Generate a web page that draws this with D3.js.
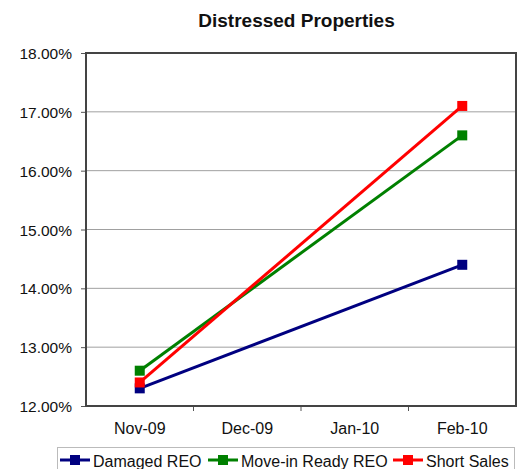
<!DOCTYPE html>
<html>
<head>
<meta charset="utf-8">
<script src="https://cdn.jsdelivr.net/npm/d3@7"></script>
<style>
  html, body { margin: 0; padding: 0; background: #fff; }
  svg { display: block; font-family: "Liberation Sans", Arial, sans-serif; }
</style>
</head>
<body>
<svg id="chart" width="519" height="469"></svg>
<script>
// Monthly share of distressed sales, by type (percent)
const categories = ["Nov-09", "Dec-09", "Jan-10", "Feb-10"];
const damagedREO = [12.3, null, null, 14.4];
const moveInReadyREO = [12.6, null, null, 16.6];
const shortSales = [12.4, null, null, 17.1];
const yTicks = [12, 13, 14, 15, 16, 17, 18];

const series = [
  { name: "Damaged REO", values: damagedREO, color: "#000080" },
  { name: "Move-in Ready REO", values: moveInReadyREO, color: "#008000" },
  { name: "Short Sales", values: shortSales, color: "#ff0000" }
];

const svg = d3.select("#chart");
const plot = { left: 86, right: 516, top: 53, bottom: 406 };

const x = d3.scaleBand().domain(categories).range([plot.left, plot.right]);
const y = d3.scaleLinear().domain([12, 18]).range([plot.bottom, plot.top]);

// Title
svg.append("text")
  .attr("x", 296.5).attr("y", 26.5)
  .attr("text-anchor", "middle")
  .style("font-size", "19px").style("font-weight", "bold")
  .attr("fill", "#111")
  .text("Distressed Properties");

// Horizontal gridlines
svg.append("g")
  .selectAll("line")
  .data(yTicks)
  .join("line")
  .attr("x1", plot.left).attr("x2", plot.right)
  .attr("y1", d => y(d)).attr("y2", d => y(d))
  .attr("stroke", "#a0a0a0").attr("stroke-width", 1);

// Y axis
const yAxis = svg.append("g")
  .attr("transform", `translate(${plot.left},0)`)
  .call(d3.axisLeft(y).tickValues(yTicks).tickSize(5).tickPadding(9)
    .tickFormat(d => d.toFixed(2) + "%"));
yAxis.select(".domain").remove();
yAxis.selectAll(".tick line").attr("stroke", "#555");
yAxis.selectAll(".tick text").style("font-size", "15.5px").attr("fill", "#111")
  .attr("dy", "0.36em")
  .style("font-family", "'Liberation Sans', Arial, sans-serif");

// X axis
const xAxis = svg.append("g")
  .attr("transform", `translate(0,${plot.bottom})`)
  .call(d3.axisBottom(x).tickSize(0).tickPadding(0));
xAxis.select(".domain").remove();
xAxis.selectAll(".tick text").style("font-size", "16px").attr("fill", "#111")
  .attr("dy", null).attr("y", 28)
  .style("font-family", "'Liberation Sans', Arial, sans-serif");
// Tick marks at category boundaries
svg.append("g")
  .selectAll("line")
  .data(categories.slice(1))
  .join("line")
  .attr("x1", d => x(d)).attr("x2", d => x(d))
  .attr("y1", plot.bottom).attr("y2", plot.bottom + 5)
  .attr("stroke", "#555");

// Plot frame
svg.append("rect")
  .attr("x", plot.left).attr("y", plot.top)
  .attr("width", plot.right - plot.left).attr("height", plot.bottom - plot.top)
  .attr("fill", "none").attr("stroke", "#444").attr("stroke-width", 2);

// Series lines and markers
const cx = c => x(c) + x.bandwidth() / 2;
const line = d3.line().x(d => cx(d.cat)).y(d => y(d.v));

series.forEach(s => {
  const pts = categories.map((c, i) => ({ cat: c, v: s.values[i] })).filter(d => d.v != null);
  svg.append("path")
    .datum(pts)
    .attr("d", line)
    .attr("fill", "none")
    .attr("stroke", s.color)
    .attr("stroke-width", 3);
  svg.append("g")
    .selectAll("rect")
    .data(pts)
    .join("rect")
    .attr("x", d => cx(d.cat) - 5).attr("y", d => y(d.v) - 5)
    .attr("width", 10).attr("height", 10)
    .attr("fill", s.color);
});

// Legend
const legend = svg.append("g");
legend.append("rect")
  .attr("x", 57.5).attr("y", 447.5).attr("width", 457).attr("height", 30)
  .attr("fill", "#fff").attr("stroke", "#bbb");
const legendX = [60, 208, 393];
series.forEach((s, i) => {
  const g = legend.append("g").attr("transform", `translate(${legendX[i]},460)`);
  g.append("line").attr("x1", 0).attr("x2", 30).attr("y1", 0).attr("y2", 0)
    .attr("stroke", s.color).attr("stroke-width", 3);
  g.append("rect").attr("x", 10).attr("y", -5).attr("width", 10).attr("height", 10)
    .attr("fill", s.color);
  g.append("text").attr("x", 33).attr("y", 6.5)
    .style("font-size", "16px").attr("fill", "#111")
    .text(s.name);
});
</script>
</body>
</html>
